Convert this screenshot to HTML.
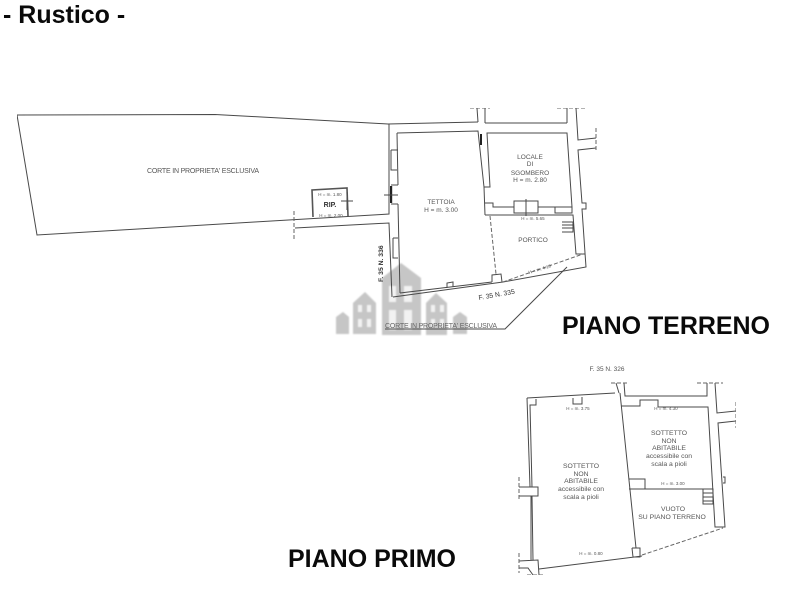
<!DOCTYPE html>
<html><head><meta charset="utf-8"><style>
html,body{margin:0;padding:0;background:#fff;width:800px;height:600px;overflow:hidden}
svg{display:block}
text{font-family:"Liberation Sans",sans-serif;fill:#555}
.b{font-weight:bold;fill:#0a0a0a}
.l{fill:none;stroke:#4a4a4a;stroke-width:1}
.d{fill:none;stroke:#666;stroke-width:1;stroke-dasharray:4 2}
.m{text-anchor:middle}
.k{fill:#222}
</style></head><body>
<svg width="800" height="600" viewBox="0 0 800 600" xmlns="http://www.w3.org/2000/svg">
<defs><filter id="s" x="0" y="0" width="100%" height="100%"><feGaussianBlur stdDeviation="0.35"/></filter>
<filter id="w" x="-5%" y="-5%" width="110%" height="110%"><feGaussianBlur stdDeviation="0.7"/></filter></defs>

<text class="b" x="3" y="23" font-size="25">- Rustico -</text>
<text class="b" x="562" y="334" font-size="25" textLength="208">PIANO TERRENO</text>
<text class="b" x="288" y="567" font-size="25" textLength="168">PIANO PRIMO</text>

<!-- watermark -->
<g filter="url(#w)">
<g fill="#c6c6c6">
<path d="M336 334V317L343 312L349 317V334Z"/>
<path d="M353 334V303L365 292L376 303V334Z"/>
<path d="M382 335V278L401 263L421 278V335Z"/>
<path d="M426 335V303L436 293L447 303V335Z"/>
<path d="M453 334V317L460 312L467 317V334Z"/>
</g>
<g fill="#f2f2f2">
<rect x="358" y="305" width="4" height="7"/><rect x="367" y="305" width="4" height="7"/><rect x="358" y="319" width="4" height="8"/><rect x="367" y="319" width="4" height="8"/>
<rect x="389" y="286" width="7" height="16"/><rect x="404" y="286" width="8" height="16"/><rect x="389" y="310" width="7" height="20"/><rect x="404" y="310" width="8" height="20"/>
<rect x="431" y="305" width="4" height="7"/><rect x="440" y="305" width="4" height="7"/><rect x="431" y="319" width="4" height="8"/><rect x="440" y="319" width="4" height="8"/>
</g>
</g>

<g filter="url(#s)">
<!-- courtyard -->
<path class="l" d="M17 115L215 114.5L388 124L478 122M17 115L37 235L389 214V124"/>
<path class="l" d="M295 228L389 223L392 297"/>
<path class="d" d="M294 211V240"/>
<path d="M313 217L312 190L347 188L348 216" fill="none" stroke="#555" stroke-width="1.6"/>
<path class="l" d="M341 201H353M347 192V210"/>
<text class="m" x="330" y="207" font-size="7" style="fill:#333;font-weight:bold">RIP.</text>
<text class="m" x="330" y="196" font-size="4.5">H = m. 1.80</text>
<text class="m" x="331" y="217" font-size="4.5">H = m. 2.00</text>

<!-- ground floor walls -->
<path class="l" d="M485 123H567M477 108L478 122M485 108V123M567 108V123M576 108L578 140L596 138M596 148L578 150L582 203H586V209H582L585 253L586 267L503 282L393 297"/>
<path class="d" d="M470 108H490M557 108H585M596 128V152"/>
<path class="l" d="M397 133L478 131L484 187H490L487 133H567L572 207M397 133L398 185M391 150H398M391 150V170H397M398 204L400 293M393 238H398M393 238V258H398M391 185H398M391 204H398"/>
<path class="l" d="M400 293L492 282M492 282V275L501 274L502 282M447 288V283L453 282V287"/>
<path class="l" d="M484 187L485 215M485 203H493V207H514M538 207H555M514 201H538V213H514ZM555 207H572V213H555ZM526 199V216M485 215H573L576 254H585"/>
<rect class="k" x="390" y="186" width="2.2" height="17"/>
<rect class="k" x="480" y="134" width="2" height="11"/>
<path class="l" d="M384 195H398"/>
<path class="d" d="M490 216L496 274M503 282L583 254"/>
<path class="l" d="M562 222H573V232H562M562 225H573M562 228H573"/>
<path class="l" d="M567 267L505 329H385"/>

<!-- first floor walls -->
<path class="l" d="M527 398L615 393M616 383L619 393M624 383L625 396H707V383M715 383L717 413L736 411M736 421L718 423L725 527H715L708 407H658V400H640V406H621"/>
<path class="l" d="M527 398L530 487M536 399V405H530L532 487M519 487H538V496H519M531 496V560M532 496L533 560M519 561L538 560L539 575M519 568H528L533 575"/>
<path class="l" d="M573 398V404H582V397M539 569L642 556M620 393L636 548M632 548H640V557H633L632 548"/>
<path class="l" d="M629 479H645V489M629 489H713"/>
<path class="l" d="M703 489H713V504H703ZM703 493H713M703 497H713M703 501H713"/>
<path class="l" d="M723 477H725V483H723"/>
<path class="d" d="M642 555L723 528M611 383H629M697 383H723M736 402V428M519 477V500M519 553V573M527 575H545"/>
</g>

<!-- text -->
<text class="m" x="203" y="173" font-size="7" textLength="112">CORTE IN PROPRIETA' ESCLUSIVA</text>
<text class="m" x="441" y="204" font-size="6.5">TETTOIA</text>
<text class="m" x="441" y="212" font-size="6.5">H = m. 3.00</text>
<text class="m" x="530" y="159" font-size="6.5">LOCALE</text>
<text class="m" x="530" y="166" font-size="6.5">DI</text>
<text class="m" x="530" y="175" font-size="6.5">SGOMBERO</text>
<text class="m" x="530" y="182" font-size="6.5">H = m. 2.80</text>
<text class="m" x="533" y="220" font-size="4.5">H = m. 5.65</text>
<text class="m" x="533" y="242" font-size="6.5">PORTICO</text>
<text x="529" y="274" font-size="4.5" transform="rotate(-17 529 274)">H = m. 4.10</text>
<text x="479" y="300" font-size="6.8" transform="rotate(-10 479 300)" style="fill:#333">F. 35 N. 335</text>
<text x="383" y="282" font-size="6.8" transform="rotate(-90 383 282)" style="fill:#333;font-weight:bold">F. 35 N. 336</text>
<text x="385" y="328" font-size="7" textLength="112" style="fill:#666">CORTE IN PROPRIETA' ESCLUSIVA</text>

<text class="m" x="607" y="371" font-size="6.5">F. 35 N. 326</text>
<text class="m" x="578" y="410" font-size="4.5">H = m. 3.75</text>
<text class="m" x="666" y="410" font-size="4.5">H = m. 4.30</text>
<text class="m" x="673" y="485" font-size="4.5">H = m. 3.00</text>
<text class="m" x="591" y="555" font-size="4.5">H = m. 0.80</text>
<g font-size="6.8">
<text class="m" x="581" y="468">SOTTETTO</text>
<text class="m" x="581" y="476">NON</text>
<text class="m" x="581" y="483">ABITABILE</text>
<text class="m" x="581" y="491">accessibile con</text>
<text class="m" x="581" y="499">scala a pioli</text>
<text class="m" x="669" y="435">SOTTETTO</text>
<text class="m" x="669" y="443">NON</text>
<text class="m" x="669" y="450">ABITABILE</text>
<text class="m" x="669" y="458">accessibile con</text>
<text class="m" x="669" y="466">scala a pioli</text>
<text class="m" x="673" y="511">VUOTO</text>
<text class="m" x="672" y="519">SU PIANO TERRENO</text>
</g>
</svg>
</body></html>
